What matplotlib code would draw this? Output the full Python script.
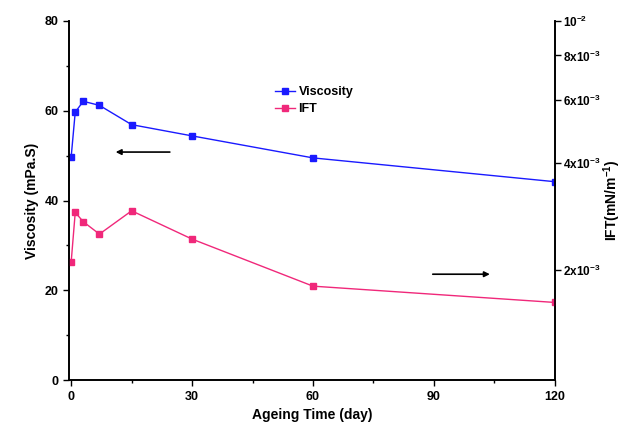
import matplotlib
matplotlib.use("Agg")
import matplotlib.pyplot as plt
from matplotlib.ticker import FixedLocator, MultipleLocator, NullLocator

plt.rcParams["font.family"] = ["Liberation Sans", "DejaVu Sans"]
plt.rcParams["font.weight"] = "bold"
plt.rcParams["mathtext.fontset"] = "custom"
plt.rcParams["mathtext.rm"] = "Liberation Sans:bold"
plt.rcParams["mathtext.bf"] = "Liberation Sans:bold"
plt.rcParams["mathtext.default"] = "bf"

# ageing time (day)
days = [0, 1, 3, 7, 15, 30, 60, 120]
# viscosity (mPa.s), left axis
viscosity = [49.8, 59.7, 62.1, 61.2, 56.9, 54.4, 49.5, 44.2]
# IFT (mN/m), right log axis
ift = [2.11e-3, 2.90e-3, 2.73e-3, 2.52e-3, 2.93e-3, 2.44e-3, 1.80e-3, 1.62e-3]

ift_ticks = [2e-3, 4e-3, 6e-3, 8e-3, 1e-2]
ift_labels = ["2x10$^{-3}$", "4x10$^{-3}$", "6x10$^{-3}$", "8x10$^{-3}$", "10$^{-2}$"]

blue = "#1a1aff"
pink = "#f0287a"

fig = plt.figure(figsize=(6.29, 4.36), dpi=100)
ax1 = fig.add_axes([0.110, 0.128, 0.772, 0.824])
ax2 = ax1.twinx()

l1, = ax1.plot(days, viscosity, color=blue, marker="s", markersize=5, linewidth=1, label="Viscosity")
l2, = ax2.plot(days, ift, color=pink, marker="s", markersize=5, linewidth=1, label="IFT")

ax1.set_xlim(-0.5, 120)
ax1.set_ylim(0, 80)
ax1.xaxis.set_major_locator(MultipleLocator(30))
ax1.xaxis.set_minor_locator(MultipleLocator(15))
ax1.yaxis.set_major_locator(MultipleLocator(20))
ax1.yaxis.set_minor_locator(MultipleLocator(10))
ax1.set_xticks([0, 30, 60, 90, 120])

ax2.set_yscale("log")
ax2.set_ylim(9.8e-4, 1e-2)
ax2.yaxis.set_major_locator(FixedLocator(ift_ticks))
ax2.yaxis.set_minor_locator(NullLocator())
ax2.set_yticklabels(ift_labels)

for ax in (ax1, ax2):
    ax.tick_params(direction="out", length=4, width=1, labelsize=9)
    ax.tick_params(which="minor", direction="out", length=2.5, width=1)
    for s in ax.spines.values():
        s.set_linewidth(1.2)
ax1.spines["top"].set_visible(False)
ax2.spines["top"].set_visible(False)
ax2.tick_params(axis="y", pad=2, labelsize=8.5)

ax1.set_xlabel("Ageing Time (day)", fontsize=10, fontweight="bold")
ax1.set_ylabel("Viscosity (mPa.S)", fontsize=10, fontweight="bold")
ax2.set_ylabel("IFT(mN/m$^{-1}$)", fontsize=10, fontweight="bold", labelpad=1)

ax1.legend([l1, l2], ["Viscosity", "IFT"], loc="upper left", bbox_to_anchor=(0.40, 0.85),
           frameon=False, fontsize=9, handlelength=1.6, handletextpad=0.3, labelspacing=0.4)

ax1.annotate("", xy=(0.09, 0.635), xytext=(0.213, 0.635), xycoords="axes fraction",
             arrowprops=dict(arrowstyle="-|>", color="black", lw=1.2, mutation_scale=8))
ax1.annotate("", xy=(0.872, 0.295), xytext=(0.743, 0.295), xycoords="axes fraction",
             arrowprops=dict(arrowstyle="-|>", color="black", lw=1.2, mutation_scale=8))

fig.savefig("out.png", dpi=100)
